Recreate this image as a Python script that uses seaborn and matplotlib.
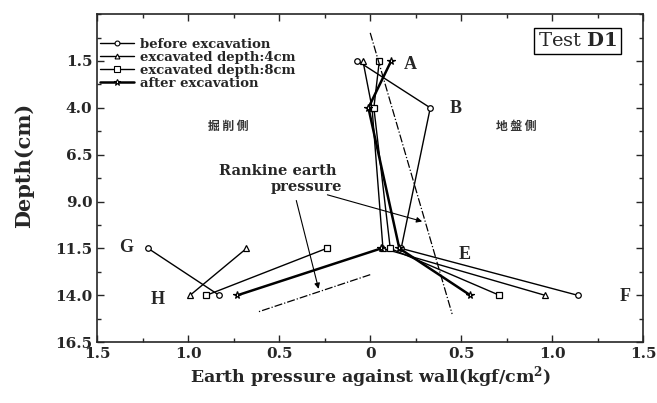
import numpy as np
import pandas as pd
import seaborn as sns
import matplotlib.pyplot as plt
from matplotlib.lines import Line2D
from matplotlib.ticker import MultipleLocator, FuncFormatter

# measuring depths (cm)
depth_ground = [1.5, 4.0, 11.5, 14.0]   # ground side (right)
depth_cut = [11.5, 14.0]                # excavation side (left)

# earth pressure, plotted as signed x (left side = excavation side)
before_ground = [-0.07, 0.33, 0.17, 1.14]
before_cut = [-1.22, -0.83]
cut4_ground = [-0.04, 0.01, 0.07, 0.96]
cut4_cut = [-0.68, -0.99]
cut8_ground = [0.05, 0.02, 0.11, 0.71]
cut8_cut = [-0.24, -0.90]
after_ground = [0.115, -0.01, 0.16, 0.55]
after_cut = [0.06, -0.73]

# Rankine earth pressure
rankine_ground_depth = [0.0, 15.0]
rankine_ground_x = [0.0, 0.45]
rankine_cut_depth = [12.9, 14.9]
rankine_cut_x = [0.0, -0.62]

series_names = ['before excavation', 'excavated depth:4cm',
                'excavated depth:8cm', 'after excavation']

sns.set_style('ticks')
plt.rcParams['font.family'] = ['DejaVu Serif']
plt.rcParams['font.weight'] = 'bold'
plt.rcParams['mathtext.fontset'] = 'dejavuserif'

fig = plt.figure(figsize=(6.57, 4.03), dpi=100)
ax = fig.add_axes([0.148, 0.151, 0.831, 0.814])

styles = [
    dict(marker='o', lw=1.0, ms=4),
    dict(marker='^', lw=1.0, ms=4),
    dict(marker='s', lw=1.0, ms=4.5),
    dict(marker='*', lw=1.8, ms=5.5),
]
data = [
    (before_ground, before_cut),
    (cut4_ground, cut4_cut),
    (cut8_ground, cut8_cut),
    (after_ground, after_cut),
]

for (g, c), st in zip(data, styles):
    for xs, ds in ((g, depth_ground), (c, depth_cut)):
        df = pd.DataFrame({'x': xs, 'depth': ds})
        sns.lineplot(data=df, x='x', y='depth', sort=False, estimator=None,
                     color='black', lw=st['lw'], marker=st['marker'],
                     ms=st['ms'], mfc='white', mec='black', mew=0.9, ax=ax)

sns.lineplot(x=rankine_ground_x, y=rankine_ground_depth, sort=False,
             estimator=None, color='black', lw=0.9, ls='-.', ax=ax)
sns.lineplot(x=rankine_cut_x, y=rankine_cut_depth, sort=False,
             estimator=None, color='black', lw=0.9, ls='-.', ax=ax)

ax.set_xlim(-1.5, 1.5)
ax.set_ylim(16.5, -1.0)
ax.xaxis.set_major_locator(MultipleLocator(0.5))
ax.xaxis.set_minor_locator(MultipleLocator(0.25))
ax.yaxis.set_minor_locator(MultipleLocator(1.25, offset=0.25))
ax.set_yticks([1.5, 4.0, 6.5, 9.0, 11.5, 14.0, 16.5])
ax.xaxis.set_major_formatter(FuncFormatter(
    lambda v, p: '0' if abs(v) < 1e-9 else f'{abs(v):.1f}'))
ax.tick_params(which='both', direction='in', top=True, right=True,
               width=1.0, labelsize=11)
ax.tick_params(which='major', length=5)
ax.tick_params(which='minor', length=3)
for s in ax.spines.values():
    s.set_linewidth(1.2)

ax.set_xlabel('Earth pressure against wall(kgf/cm$^\\mathbf{2}$)',
              fontsize=12.5, fontweight='bold', labelpad=2)
ax.set_ylabel('Depth(cm)', fontsize=15, fontweight='bold')
ax.yaxis.set_label_coords(-0.115, 0.54)

# legend
handles = [Line2D([], [], color='black', lw=st['lw'], marker=st['marker'],
                  ms=st['ms'] - 0.5, mfc='white', mec='black', mew=0.8)
           for st in styles]
leg = ax.legend(handles, series_names, loc='upper left', frameon=False,
                bbox_to_anchor=(-0.012, 0.955), labelspacing=0.0,
                handlelength=2.6, handletextpad=0.45, borderpad=0.2,
                prop={'family': 'DejaVu Serif', 'weight': 'bold', 'size': 9.5})

# point labels
for txt, x, y in [('A', 0.22, 1.7), ('B', 0.47, 4.05), ('E', 0.52, 11.8),
                  ('F', 1.40, 14.05), ('G', -1.34, 11.45), ('H', -1.17, 14.2)]:
    ax.text(x, y, txt, fontsize=13, fontweight='bold', ha='center', va='center',
            family='Liberation Serif')

ax.text(-0.78, 5.0, '掘 削 側', fontsize=8.5, ha='center', va='center',
        family=['Noto Sans CJK JP'], color='#333333')
ax.text(0.80, 5.0, '地 盤 側', fontsize=8.5, ha='center', va='center',
        family=['Noto Sans CJK JP'], color='#333333')

ax.text(1.14, 0.45, 'Test $\\mathbf{D1}$', fontsize=14, fontweight='normal',
        ha='center', va='center',
        bbox=dict(boxstyle='square,pad=0.2', fc='white', ec='black', lw=1.0))

ax.text(-0.51, 7.35, 'Rankine earth', fontsize=10.5, fontweight='bold',
        ha='center', va='center')
ax.text(-0.35, 8.25, 'pressure', fontsize=10.5, fontweight='bold',
        ha='center', va='center')
ax.annotate('', xy=(0.30, 10.1), xytext=(-0.25, 8.6),
            arrowprops=dict(arrowstyle='-|>', color='black', lw=0.8,
                            mutation_scale=8))
ax.annotate('', xy=(-0.28, 13.8), xytext=(-0.41, 8.8),
            arrowprops=dict(arrowstyle='-|>', color='black', lw=0.8,
                            mutation_scale=8))

plt.savefig('out.png', dpi=100)
